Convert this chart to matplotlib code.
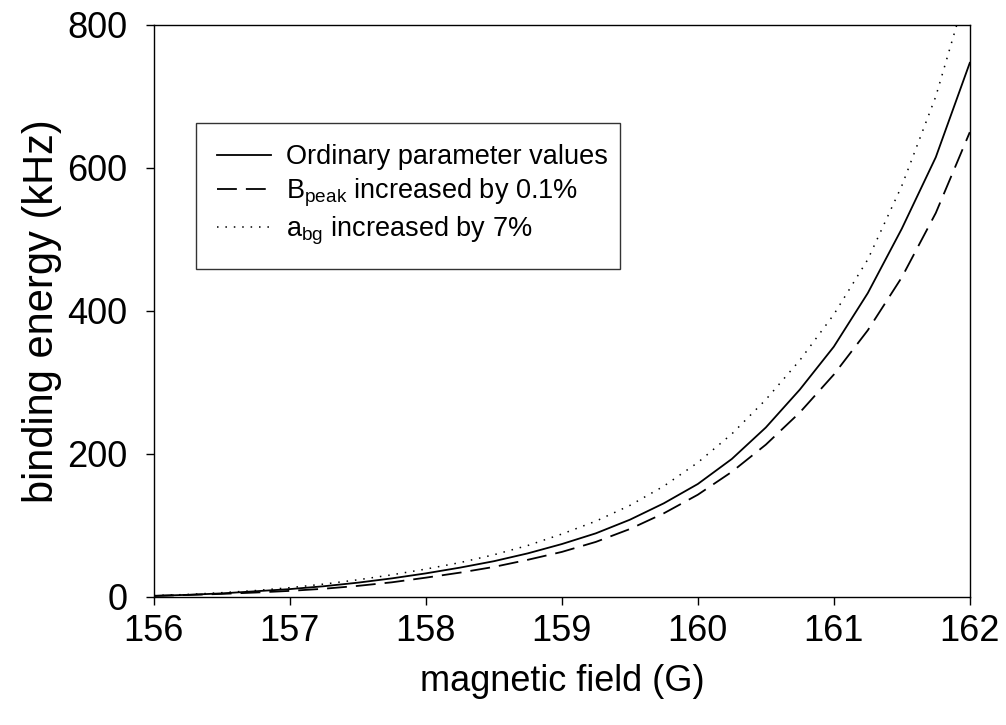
import matplotlib
matplotlib.use('Agg')
import matplotlib.pyplot as plt
import numpy as np

plt.rcParams['font.family'] = ['Liberation Sans', 'DejaVu Sans']
plt.rcParams['mathtext.fontset'] = 'custom'
plt.rcParams['mathtext.rm'] = 'Liberation Sans'

# magnetic field (G)
field = [156.00, 156.25, 156.50, 156.75, 157.00, 157.25, 157.50, 157.75,
         158.00, 158.25, 158.50, 158.75, 159.00, 159.25, 159.50, 159.75,
         160.00, 160.25, 160.50, 160.75, 161.00, 161.25, 161.50, 161.75, 162.00]

# binding energy (kHz)
ordinary = [1.5, 3, 5, 8, 11, 15, 20, 26,
            33, 41, 50, 61, 74, 89, 108, 131,
            158, 193, 237, 290, 350, 425, 515, 615, 747]
bpeak_up = [1.5, 2.8, 4.3, 6.2, 8.5, 11.5, 15.5, 20.5,
            27, 34, 42, 52, 63, 77, 95, 117,
            143, 175, 213, 258, 311, 373, 447, 537, 650]
abg_up = [2, 3.5, 6, 9, 13, 18, 24, 31,
          39, 48, 59, 72, 88, 106, 128, 155,
          188, 228, 276, 331, 395, 472, 575, 700, 862]

labels = ['Ordinary parameter values',
          r'B$_\mathregular{peak}$ increased by 0.1%',
          r'a$_\mathregular{bg}$ increased by 7%']

fig = plt.figure(figsize=(10.06, 7.25), dpi=100)
ax = fig.add_axes([0.153, 0.1766, 0.811, 0.789])

ax.plot(field, ordinary, color='black', lw=1.3, label=labels[0])
ax.plot(field, bpeak_up, color='black', lw=1.3, dashes=(11, 5), label=labels[1])
ax.plot(field, abg_up, color='black', lw=1.1, linestyle=(0, (1, 4.5)), label=labels[2])

ax.set_xlim(156, 162)
ax.set_ylim(0, 800)
ax.set_xticks(np.arange(156, 163, 1))
ax.set_yticks(np.arange(0, 801, 200))
ax.tick_params(direction='out', length=6, width=1, labelsize=26,
               top=False, right=False, pad=6)
ax.tick_params(axis='y', pad=13)
ax.set_xlabel('magnetic field (G)', fontsize=26, labelpad=11)
ax.set_ylabel('binding energy (kHz)', fontsize=30, labelpad=4)
for s in ax.spines.values():
    s.set_linewidth(1.0)

leg = ax.legend(loc='upper left', bbox_to_anchor=(0.051, 0.577, 0.52, 0.252),
                mode='expand', fontsize=19.5,
                frameon=True, fancybox=False, edgecolor='black',
                handlelength=2.0, borderpad=0.8, labelspacing=0.22,
                handletextpad=0.55, borderaxespad=0)
leg.get_frame().set_linewidth(1.0)

fig.savefig('out.png', dpi=100)
